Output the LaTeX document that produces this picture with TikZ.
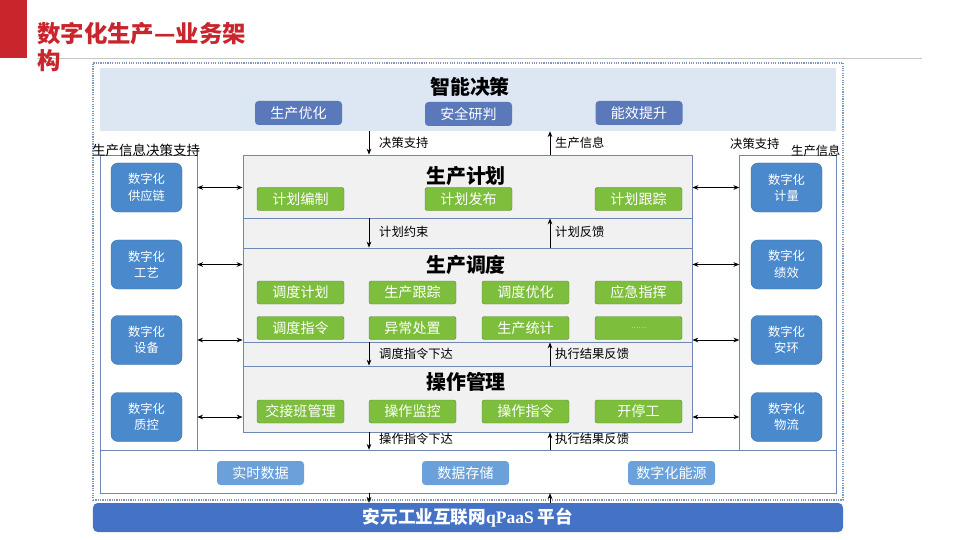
\documentclass[tikz,border=0pt]{standalone}
\usepackage{fontspec}
\setmainfont{Noto Sans CJK SC}
\newfontfamily\latinserif{Liberation Serif}
\usetikzlibrary{positioning,arrows.meta}
\definecolor{titlered}{HTML}{C8262C}
\definecolor{bandblue}{HTML}{DDE7F3}
\definecolor{frameline}{HTML}{7F97BA}
\definecolor{boxline}{HTML}{6F87B2}
\definecolor{boxgrey}{HTML}{F1F1F1}
\definecolor{topblue}{HTML}{5B79BA}
\definecolor{bfill}{HTML}{4A89CC}
\definecolor{bline}{HTML}{3B6FA8}
\definecolor{gfill}{HTML}{7DBE3C}
\definecolor{gline}{HTML}{5E8F33}
\definecolor{dfill}{HTML}{6BA1DA}
\definecolor{platblue}{HTML}{4472C4}
\begin{document}
\begin{tikzpicture}[x=0.03cm,y=-0.03cm,>={Stealth[length=5pt,width=4pt]}]
\tikzstyle{every node}=[inner sep=0pt]
\tikzstyle{midbox}=[draw=boxline,fill=boxgrey,line width=0.8pt,minimum width=13.47cm]
\tikzstyle{gbtn}=[draw=gline,fill=gfill,rounded corners=2pt,minimum width=2.61cm,minimum height=0.69cm,text=white,font=\fontsize{12}{14}\selectfont]
\tikzstyle{tbtn}=[fill=topblue,rounded corners=3pt,minimum width=2.61cm,minimum height=0.72cm,text=white,font=\fontsize{12}{14}\selectfont]
\tikzstyle{dbtn}=[fill=dfill,rounded corners=3pt,minimum width=2.61cm,minimum height=0.72cm,text=white,font=\fontsize{12}{14}\selectfont]
\tikzstyle{bbtn}=[draw=bline,fill=bfill,rounded corners=6pt,minimum width=2.13cm,minimum height=1.47cm,text=white,align=center,font=\fontsize{10.5}{14}\selectfont]
\tikzstyle{lbl}=[anchor=west,font=\fontsize{10.5}{12}\selectfont]
\tikzstyle{sectitle}=[font=\bfseries\fontsize{17}{20}\selectfont]

\useasboundingbox (0,0) rectangle (960,540);
\fill[titlered] (0,0) rectangle (27,58);
\draw[gray!45] (37,58) -- (922,58);
\node[anchor=north west,align=left,text=titlered,font=\bfseries\fontsize{20}{23}\selectfont] (title) at (37,22) {数字化生产—业务架\\构};

\node[draw=frameline,densely dotted,line width=1pt,minimum width=22.5cm,minimum height=13.11cm] (frame) at (468,281.5) {};

% top band
\node[fill=bandblue,minimum width=22.08cm,minimum height=1.89cm] (ai) at (468,99.5) {};
\node[sectitle] (aititle) at (470,87) {智能决策};
\node[tbtn] (t1) at (298.5,113) {生产优化};
\node[tbtn] (t2) at (468.5,114) {安全研判};
\node[tbtn] (t3) at (639,113) {能效提升};

% side columns
\node[draw=boxline,fill=white,minimum width=2.91cm,minimum height=8.85cm] (lcol) at (148.5,302.5) {};
\node[draw=boxline,fill=white,minimum width=2.91cm,minimum height=8.85cm] (rcol) at (788,302.5) {};
\node[bbtn] (lb1) at (146.5,187.5) {数字化\\供应链};
\node[bbtn] (lb2) at (146.5,264.5) {数字化\\工艺};
\node[bbtn] (lb3) at (146.5,340) {数字化\\设备};
\node[bbtn] (lb4) at (146.5,417) {数字化\\质控};
\node[bbtn] (rb1) at (786.5,187.5) {数字化\\计量};
\node[bbtn] (rb2) at (786.5,264.5) {数字化\\绩效};
\node[bbtn] (rb3) at (786.5,340) {数字化\\安环};
\node[bbtn] (rb4) at (786.5,417) {数字化\\物流};
\node[lbl,font=\fontsize{11.5}{13}\selectfont] (lcoltxt) at (92,150) {生产信息决策支持};
\node[lbl] (rcoltxt1) at (730,144) {决策支持};
\node[lbl] (rcoltxt2) at (791,151) {生产信息};

% middle boxes
\node[midbox,minimum height=1.89cm] (plan) at (467.5,186.5) {};
\node[midbox,minimum height=0.9cm] (plangap) at (467.5,233) {};
\node[midbox,minimum height=2.82cm] (disp) at (467.5,295) {};
\node[midbox,minimum height=0.72cm] (dispgap) at (467.5,354) {};
\node[midbox,minimum height=1.98cm] (op) at (467.5,399) {};
\node[draw=boxline,fill=white,minimum width=22.08cm,minimum height=1.29cm] (data) at (468,471.5) {};

\node[sectitle] (plantitle) at (466,176) {生产计划};
\node[gbtn] (p1) at (300.5,199) {计划编制};
\node[gbtn] (p2) at (468.5,199) {计划发布};
\node[gbtn] (p3) at (638.5,199) {计划跟踪};

\node[sectitle] (disptitle) at (466,265) {生产调度};
\node[gbtn] (d1) at (300.5,292.5) {调度计划};
\node[gbtn] (d2) at (412.5,292.5) {生产跟踪};
\node[gbtn] (d3) at (525.5,292.5) {调度优化};
\node[gbtn] (d4) at (638.5,292.5) {应急指挥};
\node[gbtn] (d5) at (300.5,328) {调度指令};
\node[gbtn] (d6) at (412.5,328) {异常处置};
\node[gbtn] (d7) at (525.5,328) {生产统计};
\node[gbtn,font=\fontsize{6}{7}\selectfont] (d8) at (638.5,328) {……};

\node[sectitle] (optitle) at (466,382) {操作管理};
\node[gbtn] (o1) at (300.5,411.5) {交接班管理};
\node[gbtn] (o2) at (412.5,411.5) {操作监控};
\node[gbtn] (o3) at (525.5,411.5) {操作指令};
\node[gbtn] (o4) at (638.5,411.5) {开停工};

\node[dbtn] (b1) at (260.5,473) {实时数据};
\node[dbtn] (b2) at (465.5,473) {数据存储};
\node[dbtn] (b3) at (671.5,473) {数字化能源};

\node[fill=platblue,rounded corners=4pt,minimum width=22.5cm,minimum height=0.87cm,text=white,font=\bfseries\fontsize{15}{17}\selectfont] (plat) at (468,517.5) {安元工业互联网{\latinserif qPaaS} 平台};

% vertical arrows
\coordinate (xa) at (369,0);
\coordinate (xb) at (550,0);
\foreach \from/\to in {ai/plan, plan/disp, disp/op, op/data}
{
\draw [->,thick] (\from.south -| xa) -- (\to.north -| xa);
\draw [->,thick] (\to.north -| xb) -- (\from.south -| xb);
}
\draw [->] (data.south -| xa) -- (plat.north -| xa);
\draw [->] (plat.north -| xb) -- (data.south -| xb);

\node[lbl] (la1) at (379,143) {决策支持};
\node[lbl] (lb1t) at (555,143) {生产信息};
\node[lbl] (la2) at (379,232) {计划约束};
\node[lbl] (lb2t) at (555,232) {计划反馈};
\node[lbl] (la3) at (379,354) {调度指令下达};
\node[lbl] (lb3t) at (555,354) {执行结果反馈};
\node[lbl] (la4) at (379,439) {操作指令下达};
\node[lbl] (lb4t) at (555,439) {执行结果反馈};

% side arrows
\foreach \l/\m/\r in {lb1/plan/rb1, lb2/disp/rb2, lb3/disp/rb3, lb4/op/rb4}
{
\draw [<->,thick] (\l -| lcol.east) -- (\l -| \m.west);
\draw [<->,thick] (\m.east |- \r) -- (rcol.west |- \r);
}
\end{tikzpicture}
\end{document}
